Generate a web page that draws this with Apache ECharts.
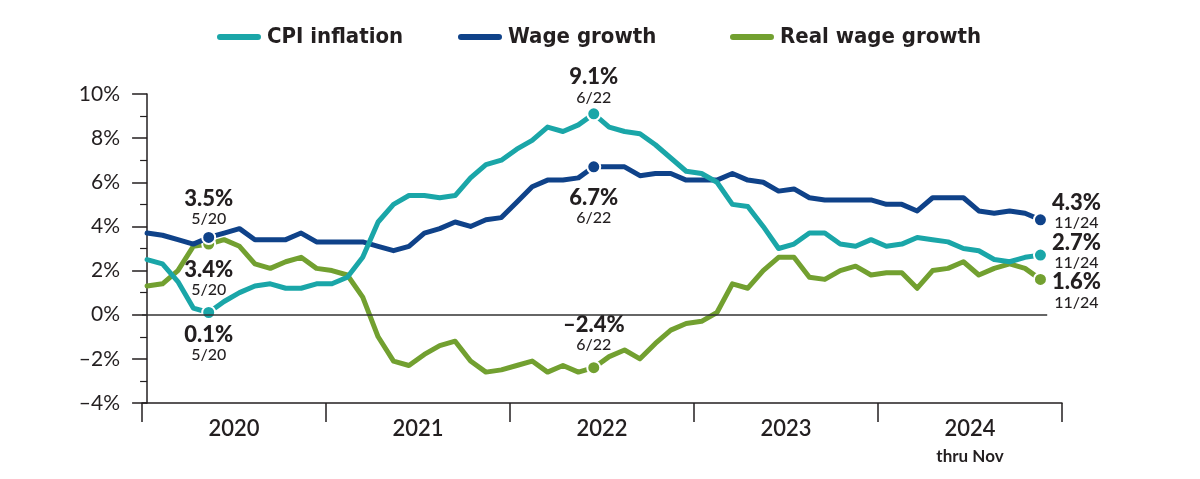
<!DOCTYPE html>
<html><head><meta charset="utf-8">
<script src="https://cdn.jsdelivr.net/npm/echarts@6.0.0/dist/echarts.min.js"></script>
<style>html,body{margin:0;padding:0;background:#fff}#c{width:1200px;height:479px}</style>
</head><body><div id="c"></div>
<script>
const years = ['2020','2021','2022','2023','2024'];
const seriesNames = ['CPI inflation','Wage growth','Real wage growth'];
// monthly, Jan 2020 .. Nov 2024
const cpi = [
  2.5, 2.3, 1.5, 0.3, 0.1, 0.6, 1.0, 1.3, 1.4, 1.2, 1.2, 1.4,
  1.4, 1.7, 2.6, 4.2, 5.0, 5.4, 5.4, 5.3, 5.4, 6.2, 6.8, 7.0,
  7.5, 7.9, 8.5, 8.3, 8.6, 9.1, 8.5, 8.3, 8.2, 7.7, 7.1, 6.5,
  6.4, 6.0, 5.0, 4.9, 4.0, 3.0, 3.2, 3.7, 3.7, 3.2, 3.1, 3.4,
  3.1, 3.2, 3.5, 3.4, 3.3, 3.0, 2.9, 2.5, 2.4, 2.6, 2.7
];
const wage = [
  3.7, 3.6, 3.4, 3.2, 3.5, 3.7, 3.9, 3.4, 3.4, 3.4, 3.7, 3.3,
  3.3, 3.3, 3.3, 3.1, 2.9, 3.1, 3.7, 3.9, 4.2, 4.0, 4.3, 4.4,
  5.1, 5.8, 6.1, 6.1, 6.2, 6.7, 6.7, 6.7, 6.3, 6.4, 6.4, 6.1,
  6.1, 6.1, 6.4, 6.1, 6.0, 5.6, 5.7, 5.3, 5.2, 5.2, 5.2, 5.2,
  5.0, 5.0, 4.7, 5.3, 5.3, 5.3, 4.7, 4.6, 4.7, 4.6, 4.3
];
const realWage = [
  1.3, 1.4, 2.0, 3.1, 3.2, 3.4, 3.1, 2.3, 2.1, 2.4, 2.6, 2.1,
  2.0, 1.8, 0.8, -1.0, -2.1, -2.3, -1.8, -1.4, -1.2, -2.1, -2.6, -2.5,
  -2.3, -2.1, -2.6, -2.3, -2.6, -2.4, -1.9, -1.6, -2.0, -1.3, -0.7, -0.4,
  -0.3, 0.1, 1.4, 1.2, 2.0, 2.6, 2.6, 1.7, 1.6, 2.0, 2.2, 1.8,
  1.9, 1.9, 1.2, 2.0, 2.1, 2.4, 1.8, 2.1, 2.3, 2.1, 1.6
];
const yMin = -4, yMax = 10, yStep = 2;
const annCpi  = [{idx:4, text:'0.1%', date:'5/20'}, {idx:29, text:'9.1%', date:'6/22'}, {idx:58, text:'2.7%', date:'11/24'}];
const annWage = [{idx:4, text:'3.5%', date:'5/20'}, {idx:29, text:'6.7%', date:'6/22'}, {idx:58, text:'4.3%', date:'11/24'}];
const annReal = [{idx:4, text:'3.4%', date:'5/20'}, {idx:29, text:'\u20132.4%', date:'6/22'}, {idx:58, text:'1.6%', date:'11/24'}];

// label placement (style only)
const place = {
  cpi:  {4:{pos:'bottom',dist:4}, 29:{pos:'top',dist:0}, 58:{pos:'right',dist:4,off:[0,-3]}},
  wage: {4:{pos:'top',dist:2}, 29:{pos:'bottom',dist:13}, 58:{pos:'right',dist:4,off:[0,-8]}},
  real: {4:{pos:'bottom',dist:7}, 29:{pos:'top',dist:6}, 58:{pos:'right',dist:4,off:[0,12]}}
};
const colors = {cpi:'#1aa6a8', wage:'#0f4289', real:'#72a030'};
const ink = '#231f20';
const rich = {
  b:{fontFamily:'Lato', fontWeight:900, fontSize:22, color:ink, lineHeight:22, align:'center'},
  s:{fontFamily:'Lato', fontWeight:500, fontSize:16, color:ink, lineHeight:18, align:'center'}
};
function build(arr, ann, key){
  return arr.map((v,i)=>{
    const a = ann.find(x=>x.idx===i);
    if(!a) return [i,v];
    const p = place[key][i];
    return {value:[i,v], symbol:'circle', symbolSize:13,
      label:{show:true, position:p.pos, distance:p.dist, offset:p.off||[0,0],
        formatter:'{b|'+a.text+'}\n{s|'+a.date+'}', rich:rich}};
  });
}
function mkSeries(name, arr, ann, key, z){
  return {name:name, type:'line', xAxisIndex:0, yAxisIndex:0, z:z,
    symbol:'none', showSymbol:true, data:build(arr, ann, key),
    lineStyle:{color:colors[key], width:5, cap:'round', join:'round'},
    itemStyle:{color:colors[key], borderColor:'#fff', borderWidth:2},
    emphasis:{disabled:true}, silent:true};
}
const realS = mkSeries(seriesNames[2], realWage, annReal, 'real', 2);
realS.markLine = {silent:true, symbol:'none', animation:false,
  lineStyle:{color:'#333', width:1.5, type:'solid'}, label:{show:false},
  data:[[{coord:[-0.33,0]},{coord:[58.44,0]}]]};

const legendFont = {fontFamily:"'DejaVu Sans Condensed','Liberation Sans Narrow',sans-serif", fontWeight:'bold', fontSize:22, color:ink};
const pill = 'path://M4,0 H42 A4,4 0 0 1 42,8 H4 A4,4 0 0 1 4,0 Z';
function lg(name, left){
  return {data:[name], left:left, top:26, padding:0, icon:pill, itemWidth:46, itemHeight:8,
    textStyle:legendFont, selectedMode:false};
}
const chart = echarts.init(document.getElementById('c'), null, {renderer:'canvas'});
chart.setOption({
  animation:false,
  backgroundColor:'#fff',
  legend:[lg(seriesNames[0],215), lg(seriesNames[1],456), lg(seriesNames[2],728)],
  grid:{left:142, right:138, top:94, bottom:76, containLabel:false},
  xAxis:[
    {type:'value', min:-0.33, max:59.4, show:false},
    {type:'category', data:years, position:'bottom', boundaryGap:true,
      axisLine:{show:true, lineStyle:{color:ink, width:1.5}},
      axisTick:{show:true, length:19, lineStyle:{color:ink, width:1.5}},
      axisLabel:{margin:14, interval:0,
        formatter:(v,i)=> i===years.length-1 ? '{y|'+v+'}\n{n|thru Nov}' : '{y|'+v+'}',
        rich:{y:{fontFamily:'Lato', fontWeight:600, fontSize:22, color:ink, lineHeight:24},
              n:{fontFamily:'Lato', fontWeight:700, fontSize:17, color:ink, lineHeight:32}}}}
  ],
  yAxis:{type:'value', min:yMin, max:yMax, interval:yStep,
    axisLine:{show:true, lineStyle:{color:ink, width:1.5}},
    axisTick:{show:true, length:15, lineStyle:{color:ink, width:1.5}},
    minorTick:{show:true, splitNumber:2, length:7, lineStyle:{color:ink, width:1.2}},
    splitLine:{show:false},
    axisLabel:{margin:22, fontFamily:'Lato', fontSize:21, color:ink,
      formatter:v=> v<0 ? '\u2013'+(-v)+'%' : v+'%'}},
  series:[
    realS,
    mkSeries(seriesNames[1], wage, annWage, 'wage', 3),
    mkSeries(seriesNames[0], cpi, annCpi, 'cpi', 4)
  ]
});
</script></body></html>
